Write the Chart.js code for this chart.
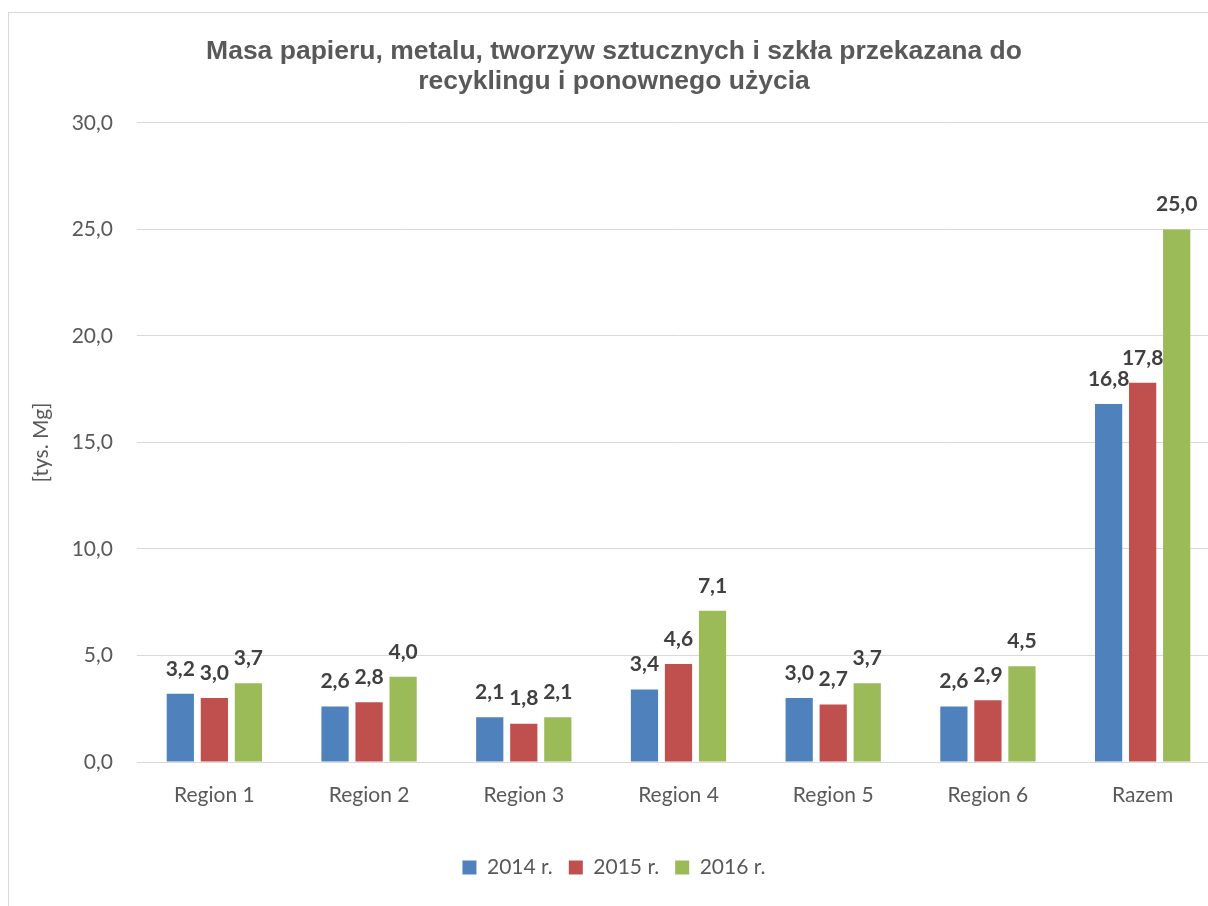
<!DOCTYPE html>
<html>
<head>
<meta charset="utf-8">
<script src="https://cdn.jsdelivr.net/npm/chart.js@4.4.0/dist/chart.umd.min.js"></script>
<style>
html,body{margin:0;padding:0;background:#fff;overflow:hidden;width:1208px;height:906px;}
#frame{position:absolute;left:8px;top:12px;width:1214px;height:900px;border:1px solid #d9d9d9;box-sizing:border-box;background:#fff;}
#wrap{position:absolute;left:8px;top:12px;width:1214px;height:900px;}
</style>
</head>
<body>
<div id="frame"></div>
<div id="wrap"><canvas id="c" width="1214" height="900"></canvas></div>
<script>
const categories = ['Region 1','Region 2','Region 3','Region 4','Region 5','Region 6','Razem'];
const seriesNames = ['2014 r.','2015 r.','2016 r.'];
const values2014 = [3.2, 2.6, 2.1, 3.4, 3.0, 2.6, 16.8];
const values2015 = [3.0, 2.8, 1.8, 4.6, 2.7, 2.9, 17.8];
const values2016 = [3.7, 4.0, 2.1, 7.1, 3.7, 4.5, 25.0];
const yTicks = [0, 5, 10, 15, 20, 25, 30];
const titleLines = ['Masa papieru, metalu, tworzyw sztucznych i szkła przekazana do','recyklingu i ponownego użycia'];
const yTitle = '[tys. Mg]';

const colors = ['#4f81bd','#c0504d','#9bbb59'];
const fmt = v => v.toFixed(1).replace('.', ',');

const labelPlugin = {
  id: 'barLabels',
  afterDatasetsDraw(chart) {
    const ctx = chart.ctx;
    ctx.save();
    ctx.font = 'bold 21px Lato';
    ctx.fillStyle = '#404040';
    ctx.textAlign = 'center';
    ctx.textBaseline = 'middle';
    chart.data.datasets.forEach((ds, i) => {
      const meta = chart.getDatasetMeta(i);
      meta.data.forEach((bar, j) => {
        ctx.fillText(fmt(ds.data[j]), bar.x, bar.y - 25);
      });
    });
    ctx.restore();
  }
};

new Chart(document.getElementById('c'), {
  type: 'bar',
  data: {
    labels: categories,
    datasets: [
      {label: seriesNames[0], data: values2014, backgroundColor: colors[0]},
      {label: seriesNames[1], data: values2015, backgroundColor: colors[1]},
      {label: seriesNames[2], data: values2016, backgroundColor: colors[2]}
    ]
  },
  options: {
    responsive: false,
    animation: false,
    devicePixelRatio: 1,
    layout: {padding: {left: 0, right: 2, top: 0, bottom: 24}},
    datasets: {bar: {categoryPercentage: 0.66, barPercentage: 0.8}},
    plugins: {
      title: {
        display: true,
        text: titleLines,
        color: '#595959',
        font: {family: 'Liberation Sans', size: 26.5, weight: 'bold', lineHeight: 1.13},
        padding: {top: 25, bottom: 26}
      },
      legend: {
        position: 'bottom',
        labels: {
          color: '#595959',
          font: {family: 'Lato', size: 21},
          boxWidth: 14, boxHeight: 14,
          padding: 16
        }
      },
      tooltip: {enabled: false}
    },
    scales: {
      x: {
        grid: {display: false, drawTicks: false},
        border: {display: true, color: '#d9d9d9'},
        ticks: {color: '#595959', font: {family: 'Lato', size: 21}, padding: 21},
        afterFit(s) { s.height = 79; }
      },
      y: {
        min: 0, max: 30,
        afterBuildTicks(s) { s.ticks = yTicks.map(v => ({value: v})); },
        grid: {color: '#d9d9d9', drawTicks: false},
        border: {display: false},
        ticks: {color: '#595959', font: {family: 'Lato', size: 21}, padding: 24, callback: v => fmt(v)},
        title: {display: true, text: yTitle, color: '#595959', font: {family: 'Lato', size: 21}, padding: {top: 21, bottom: 10}},
        afterFit(s) { s.width = 129; }
      }
    }
  },
  plugins: [labelPlugin]
});
</script>
</body>
</html>
